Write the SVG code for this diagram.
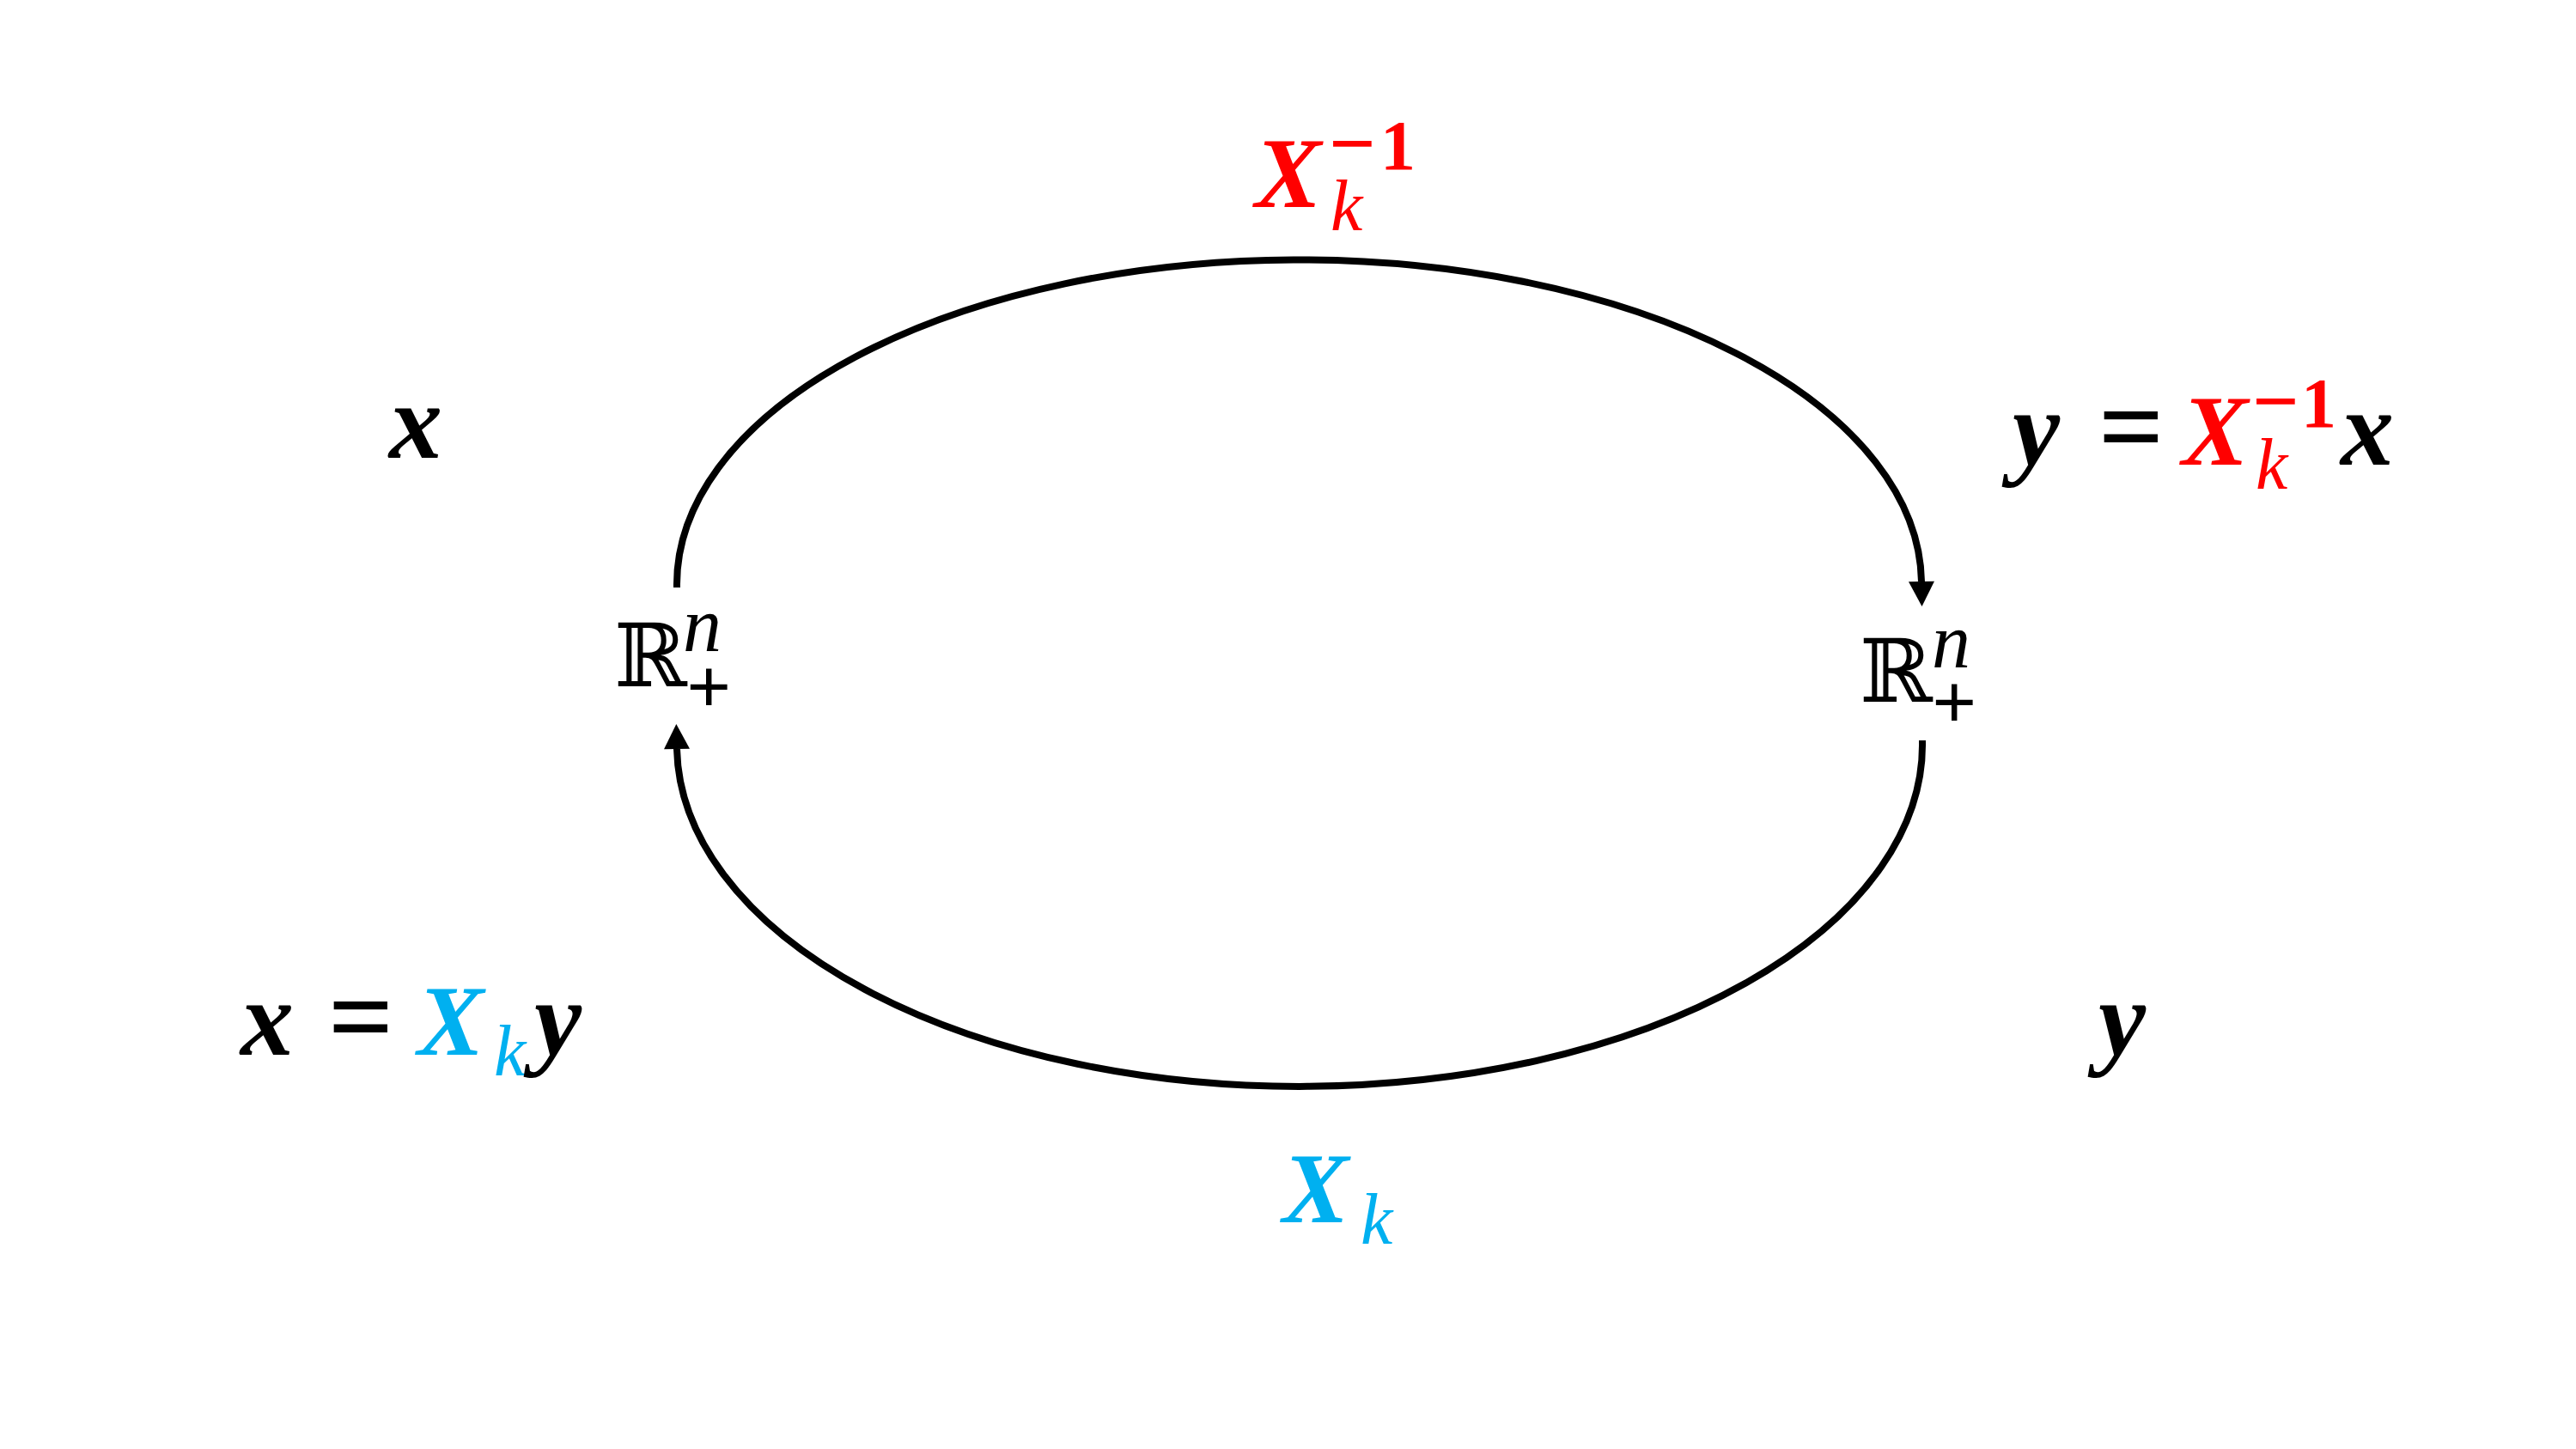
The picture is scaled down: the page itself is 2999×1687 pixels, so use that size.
<svg xmlns="http://www.w3.org/2000/svg" width="2999" height="1687" viewBox="0 0 2999 1687">
<defs>
<style>
.m{font-family:"Liberation Serif",serif;font-weight:bold;font-style:italic;font-size:124px}
.X{font-family:"Liberation Serif",serif;font-weight:bold;font-style:italic;font-size:116px}
.eq{font-family:"Liberation Serif",serif;font-weight:bold;font-style:normal;font-size:134px}
.sub{font-family:"Liberation Serif",serif;font-weight:normal;font-style:italic;font-size:84px}
.sup{font-family:"Liberation Serif",serif;font-weight:bold;font-style:normal;font-size:82px}
.mi{font-family:"Liberation Serif",serif;font-weight:bold;font-style:normal;font-size:96px}
.R{font-family:"DejaVu Serif",serif;font-style:normal;font-size:102px}
.n{font-family:"Liberation Serif",serif;font-style:italic;font-size:90px}
.p{font-family:"Liberation Serif",serif;font-weight:bold;font-style:normal;font-size:92px}
.red{fill:#FF0000}
.blue{fill:#00B0F0}
.blk{fill:#000000}
.arc{fill:none;stroke:#000;stroke-width:8}
</style>
<marker id="ah" markerUnits="userSpaceOnUse" markerWidth="30" markerHeight="30" refX="0" refY="13.5" orient="auto" viewBox="0 0 26 27">
<path d="M0,0 L26,13.5 L0,27 z" fill="#000"/>
</marker>
</defs>
<rect width="2999" height="1687" fill="#fff"/>
<g id="connectors">
<path id="top-arc" class="arc" d="M788,684 A724.5 378 0 0 1 2237,677" marker-end="url(#ah)"/>
<path id="bottom-arc" class="arc" d="M2238,862 A725 398 0 0 1 788,872" marker-end="url(#ah)"/>
</g>
<g id="node-left">
<text class="blk"><tspan class="R" x="715" y="799">ℝ</tspan><tspan class="n" x="795" y="758">n</tspan><tspan class="p" x="799" y="830">+</tspan></text>
</g>
<g id="node-right">
<text class="blk"><tspan class="R" x="2165" y="817">ℝ</tspan><tspan class="n" x="2249" y="777">n</tspan><tspan class="p" x="2249" y="848">+</tspan></text>
</g>
<g id="label-top">
<text class="red"><tspan class="X" x="1461" y="241">X</tspan><tspan class="sub" x="1549" y="268">k</tspan><tspan class="mi" x="1547" y="199">−</tspan><tspan class="sup" x="1607" y="197">1</tspan></text>
</g>
<g id="label-right-top">
<text class="blk"><tspan class="m" x="2343" y="541">y</tspan><tspan class="eq" x="2443" y="541">=</tspan><tspan class="X red" x="2540" y="541">X</tspan><tspan class="sub red" x="2626" y="569">k</tspan><tspan class="mi red" x="2622" y="499">−</tspan><tspan class="sup red" x="2679" y="497">1</tspan><tspan class="m" x="2725" y="541">x</tspan></text>
</g>
<g id="label-left-top">
<text class="m blk" x="453" y="533">x</text>
</g>
<g id="label-left-bottom">
<text class="blk"><tspan class="m" x="280" y="1228">x</tspan><tspan class="eq" x="382" y="1228">=</tspan><tspan class="X blue" x="486" y="1228">X</tspan><tspan class="sub blue" x="575" y="1252">k</tspan><tspan class="m" x="622" y="1228">y</tspan></text>
</g>
<g id="label-bottom">
<text class="blue"><tspan class="X" x="1493" y="1423">X</tspan><tspan class="sub" x="1584" y="1448">k</tspan></text>
</g>
<g id="label-right-bottom">
<text class="m blk" x="2443" y="1228">y</text>
</g>
</svg>
